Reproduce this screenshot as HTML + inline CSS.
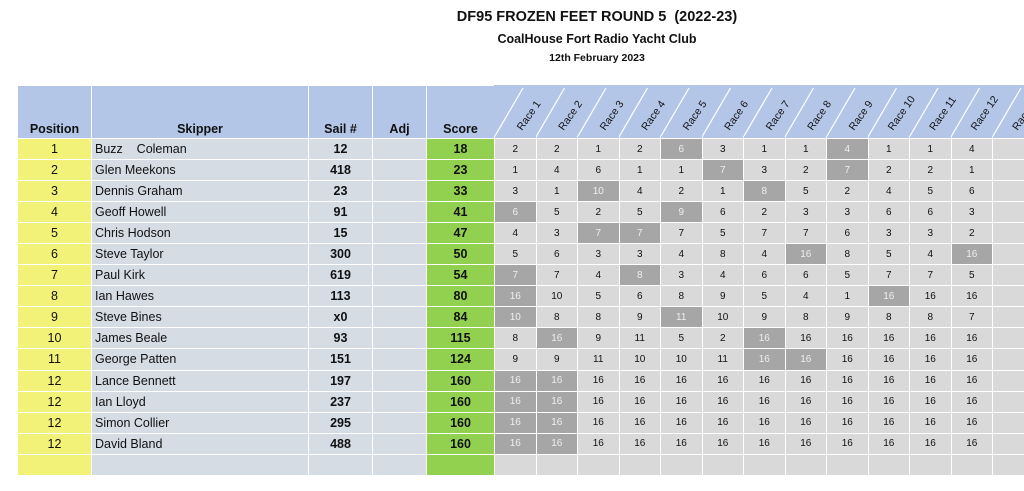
<!DOCTYPE html>
<html><head><meta charset="utf-8">
<style>
body{margin:0;width:1024px;height:491px;background:#fff;position:relative;overflow:hidden;font-family:"Liberation Sans",sans-serif;}
.t{position:absolute;left:0;width:1194px;text-align:center;font-weight:bold;color:#111;}
table{position:absolute;left:17px;top:85px;border-collapse:collapse;table-layout:fixed;width:1030px;}
td{border:1px solid #fff;padding:0;height:20.05px;font-size:12.5px;text-align:center;color:#111;background:#d9d9d9;overflow:hidden;white-space:nowrap;}
tr.h td{height:50px;background:#b4c6e7;font-weight:bold;font-size:12.5px;vertical-align:bottom;padding-bottom:2px;}
td.p{background:#f2f278;}
td.s{background:#d6dce4;text-align:left;padding-left:3px;}
td.n{background:#d6dce4;font-weight:bold;}
td.a{background:#d6dce4;}
td.g{background:#92d050;font-weight:bold;}
td.r{font-size:10px;}
td.d{background:#a6a6a6;color:#eee;font-size:10px;}
</style></head><body>
<div class="t" style="top:9px;font-size:14.5px;">DF95 FROZEN FEET ROUND 5&nbsp; (2022-23)</div>
<div class="t" style="top:32px;font-size:12.5px;">CoalHouse Fort Radio Yacht Club</div>
<div class="t" style="top:52px;font-size:10.5px;">12th February 2023</div>
<table>
<colgroup><col style="width:74px"><col style="width:217px"><col style="width:64px"><col style="width:54px"><col style="width:68px">
<col style="width:41.5px"><col style="width:41.5px"><col style="width:41.5px"><col style="width:41.5px"><col style="width:41.5px"><col style="width:41.5px"><col style="width:41.5px"><col style="width:41.5px"><col style="width:41.5px"><col style="width:41.5px"><col style="width:41.5px"><col style="width:41.5px"><col style="width:55px"></colgroup>
<tr class="h"><td>Position</td><td>Skipper</td><td>Sail #</td><td>Adj</td><td>Score</td><td></td><td></td><td></td><td></td><td></td><td></td><td></td><td></td><td></td><td></td><td></td><td></td><td></td></tr>
<tr><td class="p">1</td><td class="s">Buzz&nbsp;&nbsp;&nbsp; Coleman</td><td class="n">12</td><td class="a"></td><td class="g">18</td><td class="r">2</td><td class="r">2</td><td class="r">1</td><td class="r">2</td><td class="d">6</td><td class="r">3</td><td class="r">1</td><td class="r">1</td><td class="d">4</td><td class="r">1</td><td class="r">1</td><td class="r">4</td><td></td></tr>
<tr><td class="p">2</td><td class="s">Glen Meekons</td><td class="n">418</td><td class="a"></td><td class="g">23</td><td class="r">1</td><td class="r">4</td><td class="r">6</td><td class="r">1</td><td class="r">1</td><td class="d">7</td><td class="r">3</td><td class="r">2</td><td class="d">7</td><td class="r">2</td><td class="r">2</td><td class="r">1</td><td></td></tr>
<tr><td class="p">3</td><td class="s">Dennis Graham</td><td class="n">23</td><td class="a"></td><td class="g">33</td><td class="r">3</td><td class="r">1</td><td class="d">10</td><td class="r">4</td><td class="r">2</td><td class="r">1</td><td class="d">8</td><td class="r">5</td><td class="r">2</td><td class="r">4</td><td class="r">5</td><td class="r">6</td><td></td></tr>
<tr><td class="p">4</td><td class="s">Geoff Howell</td><td class="n">91</td><td class="a"></td><td class="g">41</td><td class="d">6</td><td class="r">5</td><td class="r">2</td><td class="r">5</td><td class="d">9</td><td class="r">6</td><td class="r">2</td><td class="r">3</td><td class="r">3</td><td class="r">6</td><td class="r">6</td><td class="r">3</td><td></td></tr>
<tr><td class="p">5</td><td class="s">Chris Hodson</td><td class="n">15</td><td class="a"></td><td class="g">47</td><td class="r">4</td><td class="r">3</td><td class="d">7</td><td class="d">7</td><td class="r">7</td><td class="r">5</td><td class="r">7</td><td class="r">7</td><td class="r">6</td><td class="r">3</td><td class="r">3</td><td class="r">2</td><td></td></tr>
<tr><td class="p">6</td><td class="s">Steve Taylor</td><td class="n">300</td><td class="a"></td><td class="g">50</td><td class="r">5</td><td class="r">6</td><td class="r">3</td><td class="r">3</td><td class="r">4</td><td class="r">8</td><td class="r">4</td><td class="d">16</td><td class="r">8</td><td class="r">5</td><td class="r">4</td><td class="d">16</td><td></td></tr>
<tr><td class="p">7</td><td class="s">Paul Kirk</td><td class="n">619</td><td class="a"></td><td class="g">54</td><td class="d">7</td><td class="r">7</td><td class="r">4</td><td class="d">8</td><td class="r">3</td><td class="r">4</td><td class="r">6</td><td class="r">6</td><td class="r">5</td><td class="r">7</td><td class="r">7</td><td class="r">5</td><td></td></tr>
<tr><td class="p">8</td><td class="s">Ian Hawes</td><td class="n">113</td><td class="a"></td><td class="g">80</td><td class="d">16</td><td class="r">10</td><td class="r">5</td><td class="r">6</td><td class="r">8</td><td class="r">9</td><td class="r">5</td><td class="r">4</td><td class="r">1</td><td class="d">16</td><td class="r">16</td><td class="r">16</td><td></td></tr>
<tr><td class="p">9</td><td class="s">Steve Bines</td><td class="n">x0</td><td class="a"></td><td class="g">84</td><td class="d">10</td><td class="r">8</td><td class="r">8</td><td class="r">9</td><td class="d">11</td><td class="r">10</td><td class="r">9</td><td class="r">8</td><td class="r">9</td><td class="r">8</td><td class="r">8</td><td class="r">7</td><td></td></tr>
<tr><td class="p">10</td><td class="s">James Beale</td><td class="n">93</td><td class="a"></td><td class="g">115</td><td class="r">8</td><td class="d">16</td><td class="r">9</td><td class="r">11</td><td class="r">5</td><td class="r">2</td><td class="d">16</td><td class="r">16</td><td class="r">16</td><td class="r">16</td><td class="r">16</td><td class="r">16</td><td></td></tr>
<tr><td class="p">11</td><td class="s">George Patten</td><td class="n">151</td><td class="a"></td><td class="g">124</td><td class="r">9</td><td class="r">9</td><td class="r">11</td><td class="r">10</td><td class="r">10</td><td class="r">11</td><td class="d">16</td><td class="d">16</td><td class="r">16</td><td class="r">16</td><td class="r">16</td><td class="r">16</td><td></td></tr>
<tr><td class="p">12</td><td class="s">Lance Bennett</td><td class="n">197</td><td class="a"></td><td class="g">160</td><td class="d">16</td><td class="d">16</td><td class="r">16</td><td class="r">16</td><td class="r">16</td><td class="r">16</td><td class="r">16</td><td class="r">16</td><td class="r">16</td><td class="r">16</td><td class="r">16</td><td class="r">16</td><td></td></tr>
<tr><td class="p">12</td><td class="s">Ian Lloyd</td><td class="n">237</td><td class="a"></td><td class="g">160</td><td class="d">16</td><td class="d">16</td><td class="r">16</td><td class="r">16</td><td class="r">16</td><td class="r">16</td><td class="r">16</td><td class="r">16</td><td class="r">16</td><td class="r">16</td><td class="r">16</td><td class="r">16</td><td></td></tr>
<tr><td class="p">12</td><td class="s">Simon Collier</td><td class="n">295</td><td class="a"></td><td class="g">160</td><td class="d">16</td><td class="d">16</td><td class="r">16</td><td class="r">16</td><td class="r">16</td><td class="r">16</td><td class="r">16</td><td class="r">16</td><td class="r">16</td><td class="r">16</td><td class="r">16</td><td class="r">16</td><td></td></tr>
<tr><td class="p">12</td><td class="s">David Bland</td><td class="n">488</td><td class="a"></td><td class="g">160</td><td class="d">16</td><td class="d">16</td><td class="r">16</td><td class="r">16</td><td class="r">16</td><td class="r">16</td><td class="r">16</td><td class="r">16</td><td class="r">16</td><td class="r">16</td><td class="r">16</td><td class="r">16</td><td></td></tr>
<tr><td class="p"></td><td class="s"></td><td class="n"></td><td class="a"></td><td class="g"></td><td></td><td></td><td></td><td></td><td></td><td></td><td></td><td></td><td></td><td></td><td></td><td></td><td></td></tr>
</table>
<svg style="position:absolute;left:0;top:0" width="1024" height="491">
<rect x="494" y="85" width="530" height="51" fill="#b4c6e7"/>
<g stroke="#fff" stroke-width="1.2">
<line x1="495" y1="136" x2="523" y2="88"/><line x1="536.5" y1="136" x2="564.5" y2="88"/><line x1="578" y1="136" x2="606" y2="88"/><line x1="619.5" y1="136" x2="647.5" y2="88"/><line x1="661" y1="136" x2="689" y2="88"/><line x1="702.5" y1="136" x2="730.5" y2="88"/><line x1="744" y1="136" x2="772" y2="88"/><line x1="785.5" y1="136" x2="813.5" y2="88"/><line x1="827" y1="136" x2="855" y2="88"/><line x1="868.5" y1="136" x2="896.5" y2="88"/><line x1="910" y1="136" x2="938" y2="88"/><line x1="951.5" y1="136" x2="979.5" y2="88"/><line x1="993" y1="136" x2="1021" y2="88"/>
</g>
<g font-family="Liberation Sans, sans-serif" font-size="10.5" fill="#111">
<text transform="translate(522,131) rotate(-55)">Race 1</text>
<text transform="translate(563.5,131) rotate(-55)">Race 2</text>
<text transform="translate(605,131) rotate(-55)">Race 3</text>
<text transform="translate(646.5,131) rotate(-55)">Race 4</text>
<text transform="translate(688,131) rotate(-55)">Race 5</text>
<text transform="translate(729.5,131) rotate(-55)">Race 6</text>
<text transform="translate(771,131) rotate(-55)">Race 7</text>
<text transform="translate(812.5,131) rotate(-55)">Race 8</text>
<text transform="translate(854,131) rotate(-55)">Race 9</text>
<text transform="translate(893,131) rotate(-55)">Race 10</text>
<text transform="translate(934.5,131) rotate(-55)">Race 11</text>
<text transform="translate(976,131) rotate(-55)">Race 12</text>
<text transform="translate(1017.5,131) rotate(-55)">Race 13</text>
</g>
</svg>
</body></html>
